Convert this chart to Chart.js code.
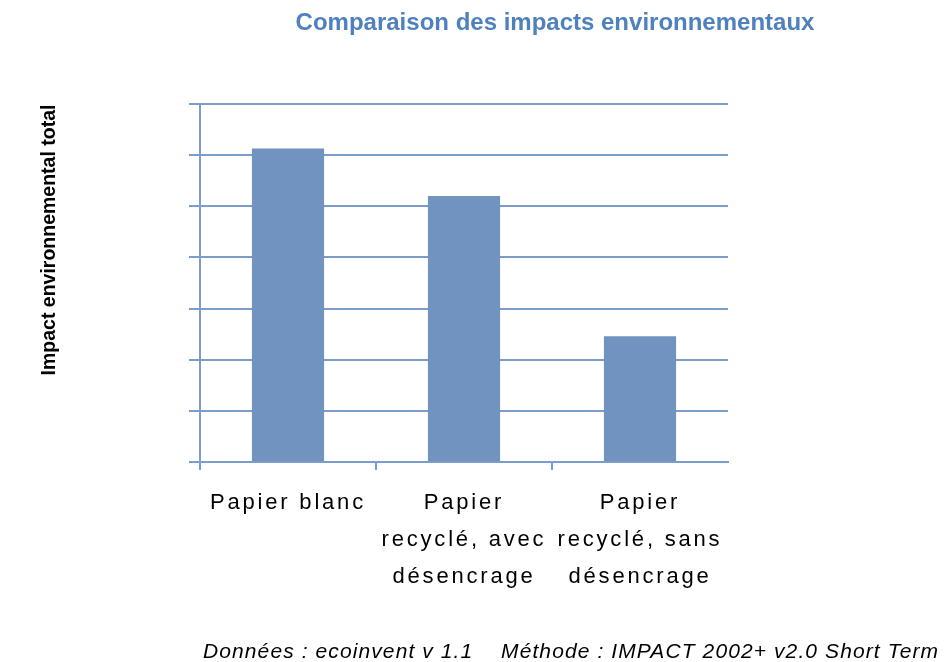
<!DOCTYPE html>
<html>
<head>
<meta charset="utf-8">
<script src="https://cdn.jsdelivr.net/npm/chart.js@4/dist/chart.umd.min.js"></script>
<style>
  body { margin: 0; background: #fff; }
  #wrap { width: 944px; height: 662px; position: relative; }
</style>
</head>
<body>
<div id="wrap"><canvas id="chart"></canvas></div>
<script>
// Data
var categories = [
    ['Papier blanc'],
    ['Papier', 'recyclé, avec', 'désencrage'],
    ['Papier', 'recyclé, sans', 'désencrage']
];
var impactValues = [6.13, 5.2, 2.46];

var chartTitle = 'Comparaison des impacts environnementaux';
var yTitle = 'Impact environnemental total';
var footerText = 'Données : ecoinvent v 1.1    Méthode : IMPACT 2002+ v2.0 Short Term';

var lineColor = '#7b9dca';
var barColor = '#7093bf';

// Draws the texts the way the original (Excel) chart lays them out
var textPlugin = {
    id: 'texts',
    afterDraw: function(chart) {
        var ctx = chart.ctx;
        var xScale = chart.scales.x;
        ctx.save();

        // title
        ctx.fillStyle = '#4f81bd';
        ctx.font = 'bold 24px "Liberation Sans", Arial, sans-serif';
        ctx.textAlign = 'center';
        ctx.textBaseline = 'middle';
        ctx.fillText(chartTitle, 555, 23);

        // y axis title
        ctx.save();
        ctx.translate(50, 240);
        ctx.rotate(-Math.PI / 2);
        ctx.fillStyle = '#000';
        ctx.font = 'bold 19.5px "Liberation Sans", Arial, sans-serif';
        ctx.fillText(yTitle, 0, 0);
        ctx.restore();

        // category labels
        ctx.fillStyle = '#000';
        ctx.font = '22px "Liberation Sans", Arial, sans-serif';
        ctx.letterSpacing = '2.8px';
        categories.forEach(function(lines, i) {
            var x = xScale.getPixelForValue(i);
            lines.forEach(function(line, j) {
                ctx.fillText(line, x, xScale.bottom + 33 + j * 37);
            });
        });

        // footer
        ctx.font = 'italic 21px "Liberation Sans", Arial, sans-serif';
        ctx.letterSpacing = '1.1px';
        ctx.textAlign = 'left';
        ctx.fillText(footerText, 203, 652);
        ctx.restore();
    }
};

var ctx = document.getElementById('chart');

new Chart(ctx, {
    type: 'bar',
    data: {
        labels: categories,
        datasets: [{
            label: yTitle,
            data: impactValues,
            backgroundColor: barColor,
            borderWidth: 0,
            barPercentage: 0.41,
            categoryPercentage: 1
        }]
    },
    options: {
        responsive: true,
        maintainAspectRatio: false,
        animation: false,
        layout: {
            padding: { left: 189, top: 104, right: 216, bottom: 192 }
        },
        plugins: {
            legend: { display: false },
            title: { display: false },
            tooltip: { enabled: false }
        },
        scales: {
            x: {
                ticks: { display: false },
                border: { display: true, color: lineColor, width: 2 },
                grid: {
                    offset: true,
                    drawOnChartArea: false,
                    drawTicks: true,
                    tickLength: 8,
                    lineWidth: 2,
                    color: function(c) {
                        // no tick mark at the right end of the axis
                        return c.type === 'tick' ? lineColor : 'rgba(0,0,0,0)';
                    }
                }
            },
            y: {
                min: 0,
                max: 7,
                ticks: { display: false, stepSize: 1 },
                border: { display: true, color: lineColor, width: 2 },
                grid: {
                    color: lineColor,
                    lineWidth: 2,
                    drawTicks: true,
                    tickLength: 11
                }
            }
        }
    },
    plugins: [textPlugin]
});
</script>
</body>
</html>
